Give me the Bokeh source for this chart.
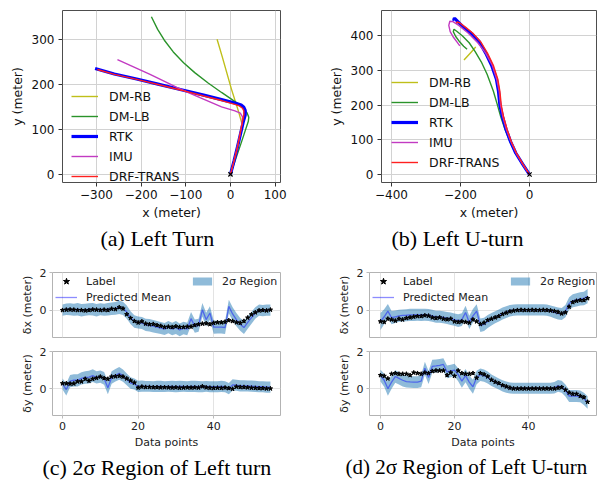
from bokeh.plotting import figure
from bokeh.models import Range1d, FixedTicker, Legend, LegendItem, Title
from bokeh.layouts import row, column
from bokeh.embed import file_html
from bokeh.resources import INLINE

FONT = "DejaVu Sans"
SERIF = "Liberation Serif"

# ---------------- (a) Left turn trajectories (meters) ----------------
a_dmrb_x = [25, 18, 10, 2, -8, -18, -30]
a_dmrb_y = [115, 140, 165, 190, 225, 260, 300]
a_dmlb_x = [0, 12, 24, 34, 40, 41, 37, 25, 11, -20, -50, -80, -105, -128, -148, -163, -177]
a_dmlb_y = [0, 35, 70, 100, 118, 127, 137, 150, 161, 182, 203, 226, 248, 272, 298, 322, 350]
a_rtk_x = [0, 8, 16, 23, 29, 33, 33, 30, 24, 12, -20, -60, -110, -160, -210, -260, -303]
a_rtk_y = [0, 30, 62, 92, 118, 132, 142, 149, 154, 158, 166, 176, 188, 200, 212, 223, 235]
a_imu_x = [0, 8, 16, 22, 26, 27, 22, 10, -20, -67, -120, -180, -253]
a_imu_y = [0, 30, 62, 92, 115, 128, 136, 141, 150, 170, 193, 222, 255]
a_drf_x = [0, 8, 16, 22, 27, 30, 30, 27, 20, 8, -20, -60, -110, -160, -210, -260, -298]
a_drf_y = [0, 30, 62, 92, 118, 132, 141, 147, 152, 156, 164, 174, 187, 199, 211, 222, 233]

# ---------------- (b) Left U-turn trajectories (meters) ----------------
b_dmrb_x = [-190, -180, -170, -161, -156]
b_dmrb_y = [330, 341, 352, 362, 368]
b_dmlb_x = [0, -21, -41, -57, -71, -83, -93, -105, -123, -140, -158, -175, -195, -211, -219, -221, -214, -202, -191, -181]
b_dmlb_y = [0, 30, 62, 95, 130, 165, 200, 241, 289, 325, 355, 380, 400, 413, 419, 412, 398, 382, 370, 361]
b_rtk_x = [0, -20, -40, -55, -68, -78, -86, -90, -96, -110, -127, -147, -170, -190, -207, -217, -220, -218]
b_rtk_y = [0, 30, 62, 95, 130, 165, 200, 240, 275, 315, 350, 385, 408, 423, 440, 450, 448, 444]
b_imu_x = [0, -20, -39, -54, -67, -77, -84, -88, -95, -108, -127, -150, -178, -205, -222, -231, -234, -230, -220, -210, -202]
b_imu_y = [0, 30, 62, 95, 130, 165, 200, 240, 275, 315, 350, 380, 408, 430, 441, 442, 430, 412, 395, 382, 371]
b_drf_x = [0, -19, -38, -53, -65, -75, -82, -86, -92, -105, -122, -142, -165, -186, -202, -210, -212]
b_drf_y = [0, 30, 62, 95, 130, 165, 200, 240, 275, 315, 350, 383, 408, 425, 437, 440, 436]

origin_x = [0]
origin_y = [0]

series_names = ["DM-RB", "DM-LB", "RTK", "IMU", "DRF-TRANS"]

# ---------------- (c) Left turn: GP errors ----------------
c_idx = list(range(56))
c_label_dx = [0.0, 0.02, 0.03, 0.02, 0.0, 0.0, -0.02, 0.0, 0.03, 0.02, 0.0, 0.02, 0.0,
              0.07, 0.05, 0.15, 0.08,
              -0.22, -0.42, -0.58, -0.66, -0.6, -0.72, -0.75, -0.74, -0.8, -0.84, -0.9,
              -0.88, -0.9, -0.86, -0.9, -0.9, -0.88, -0.88, -0.8, -0.75, -0.72, -0.7, -0.75,
              -0.68, -0.65, -0.65, -0.62, -0.54, -0.58, -0.65, -0.68, -0.58, -0.4,
              -0.23, -0.12, -0.02, 0.0, -0.02, 0.02]
c_mean_dx = [0.0, 0.05, 0.05, 0.02, 0.05, 0.0, 0.02, 0.05, 0.05, 0.0, 0.05, 0.02, 0.05, 0.08, 0.1, 0.15, 0.1,
             -0.1, -0.4, -0.6, -0.65, -0.68, -0.78, -0.8, -0.85, -0.9, -0.95, -1.0,
             -0.9, -1.0, -0.92, -1.05, -0.95, -1.0,
             -0.45, -0.85, -0.8, 0.02, -0.5, -0.15,
             -0.9, -0.9, -0.9, -0.92,
             0.2, -0.2, -0.5, -0.75, -0.92, -0.65,
             -0.4, -0.15, 0.0, -0.02, 0.0, 0.0]
c_sig_dx = [0.3, 0.3, 0.32, 0.32, 0.33, 0.33, 0.32, 0.32, 0.33, 0.33,
            0.32, 0.32, 0.33, 0.33, 0.34, 0.35, 0.35, 0.35, 0.34, 0.33,
            0.32, 0.32, 0.32, 0.33, 0.33, 0.33, 0.32, 0.32, 0.33, 0.33,
            0.34, 0.34, 0.33, 0.33, 0.35, 0.35, 0.35, 0.36, 0.36, 0.36,
            0.35, 0.34, 0.34, 0.35, 0.36, 0.36, 0.35, 0.34, 0.34, 0.33,
            0.32, 0.31, 0.3, 0.3, 0.3, 0.3]
c_label_dy = [0.28, 0.28, 0.26, 0.27, 0.38, 0.38, 0.52, 0.42, 0.52, 0.57,
              0.64, 0.56, 0.52, 0.64, 0.66, 0.68, 0.64, 0.54, 0.43, 0.32,
              0.05, 0.1, 0.08, 0.08, 0.07, 0.07, 0.06, 0.07, 0.06, 0.05,
              0.06, 0.04, 0.05, 0.06, 0.05, 0.06, 0.05, 0.12, 0.06, 0.04,
              0.03, 0.04, 0.03, 0.05, 0.02, -0.02, 0.1, 0.08, 0.08, 0.06,
              0.04, 0.03, 0.02, 0.02, 0.0, 0.0]
c_mean_dy = [0.25, -0.05, 0.4, 0.45, 0.45, 0.55, 0.6, 0.62, 0.7, 0.6,
             0.65, 0.55, 0.05, 0.6, 0.72, 0.82, 0.7, 0.5, 0.3, 0.25,
             0.12, 0.13, 0.12, 0.12, 0.11, 0.12, 0.12, 0.11, 0.12, 0.12,
             0.11, 0.12, 0.12, 0.11, 0.12, 0.12, 0.11, 0.1, 0.12, 0.1,
             0.1, 0.1, 0.12, 0.1, 0.0, 0.2, 0.18, 0.15, 0.15, 0.14,
             0.13, 0.12, 0.1, 0.1, 0.08, 0.08]
c_sig_dy = [0.3, 0.32, 0.33, 0.33, 0.33, 0.33, 0.34, 0.34, 0.34, 0.33,
            0.33, 0.34, 0.35, 0.34, 0.34, 0.34, 0.33, 0.32, 0.31, 0.3,
            0.3, 0.3, 0.29, 0.29, 0.29, 0.3, 0.3, 0.29, 0.29, 0.3,
            0.3, 0.3, 0.29, 0.29, 0.3, 0.3, 0.3, 0.3, 0.29, 0.29,
            0.3, 0.3, 0.3, 0.3, 0.3, 0.3, 0.3, 0.3, 0.3, 0.3,
            0.3, 0.3, 0.3, 0.3, 0.3, 0.3]

# ---------------- (d) Left U-turn: GP errors ----------------
d_idx = list(range(57))
d_label_dx = [-0.6, -0.63, -0.46, -0.5, -0.56, -0.46, -0.5, -0.42, -0.39, -0.35,
              -0.32, -0.32, -0.28, -0.3, -0.39, -0.42, -0.39, -0.46, -0.49, -0.46,
              -0.6, -0.63, -0.6, -0.63, -0.67, -0.5, -0.6, -0.74, -0.67, -0.53,
              -0.46, -0.39, -0.32, -0.21, -0.14, -0.07, -0.03, 0.0, 0.01, 0.0,
              0.0, 0.01, 0.0, 0.0, 0.01, 0.0, -0.02, -0.05, -0.1, -0.18,
              -0.12, 0.18, 0.42, 0.49, 0.53, 0.53, 0.63]
d_mean_dx = [-0.6, -0.35, -0.05, -0.4, -0.35, -0.3, -0.28, -0.27, -0.25, -0.25,
             -0.24, -0.25, -0.24, -0.26, -0.3, -0.35, -0.35, -0.38, -0.42, -0.45,
             -0.5, -0.55, -0.5, -0.12, -0.65, -0.3, -0.05, -0.8, -0.75, -0.6,
             -0.48, -0.38, -0.28, -0.18, -0.1, -0.03, 0.0, 0.02, 0.02, 0.02,
             0.02, 0.02, 0.02, 0.02, 0.02, 0.0, -0.05, -0.12, -0.18, -0.2,
             -0.05, 0.35, 0.5, 0.55, 0.6, 0.62, 0.75]
d_sig_dx = [0.45, 0.4, 0.38, 0.35, 0.33, 0.32, 0.32, 0.32, 0.32, 0.32,
            0.32, 0.32, 0.32, 0.32, 0.32, 0.32, 0.32, 0.32, 0.32, 0.33,
            0.33, 0.34, 0.34, 0.35, 0.35, 0.36, 0.36, 0.36, 0.35, 0.34,
            0.33, 0.32, 0.32, 0.32, 0.31, 0.31, 0.3, 0.3, 0.3, 0.3,
            0.3, 0.3, 0.3, 0.3, 0.3, 0.3, 0.3, 0.31, 0.32, 0.32,
            0.33, 0.34, 0.35, 0.35, 0.35, 0.36, 0.38]
d_label_dy = [0.72, 0.68, 0.54, 0.79, 0.83, 0.79, 0.79, 0.79, 0.72, 0.86,
              0.83, 0.79, 0.86, 0.83, 0.94, 0.97, 0.97, 0.97, 0.72, 0.86,
              0.68, 0.97, 0.83, 0.79, 0.79, 0.83, 0.58, 0.83, 0.76, 0.65,
              0.47, 0.36, 0.29, 0.18, 0.11, 0.04, 0.0, 0.0, 0.0, 0.0,
              0.0, 0.0, 0.0, 0.0, 0.0, 0.0, 0.0, 0.0, 0.04, 0.07,
              -0.07, -0.22, -0.29, -0.29, -0.4, -0.47, -0.72]
d_mean_dy = [0.7, 0.45, 0.0, 0.35, 0.65, 0.55, 0.45, 0.38, 0.36, 0.35,
             0.35, 0.4, 1.1, 0.6, 1.2, 1.22, 1.25, 1.3, 0.9, 0.95,
             1.0, 0.75, 0.4, 0.7, 0.35, 0.1, 0.6, 0.75, 0.7, 0.6,
             0.45, 0.35, 0.25, 0.15, 0.08, 0.03, 0.02, 0.02, 0.02, 0.02,
             0.02, 0.02, 0.02, 0.02, 0.02, 0.02, 0.02, 0.05, 0.15, 0.1,
             -0.1, -0.4, -0.4, -0.4, -0.42, -0.55, -0.75]
d_sig_dy = [0.32, 0.35, 0.38, 0.36, 0.34, 0.33, 0.33, 0.32, 0.32, 0.32,
            0.32, 0.33, 0.35, 0.35, 0.35, 0.35, 0.34, 0.34, 0.34, 0.34,
            0.34, 0.35, 0.36, 0.36, 0.36, 0.38, 0.36, 0.34, 0.33, 0.32,
            0.31, 0.3, 0.3, 0.3, 0.3, 0.3, 0.3, 0.3, 0.3, 0.3,
            0.3, 0.3, 0.3, 0.3, 0.3, 0.3, 0.3, 0.31, 0.32, 0.32,
            0.32, 0.32, 0.32, 0.32, 0.32, 0.33, 0.34]

gp_xticks = [0, 20, 40]
gp_yticks = [-2, 0, 2]

COLORS = ["#bfbf1a", "#2a932a", "#0000ff", "#c23ac2", "#ff2020"]
WIDTHS = [1.4, 1.4, 3.2, 1.4, 1.4]


def minus_fmt(ticks):
    return {t: ("\u2212%d" % (-t) if t < 0 else "%d" % t) for t in ticks}


def traj_fig(series, xr, yr, xticks, yticks, frame_w, mb_l, mb_r, leg_loc, caption, cap_off):
    p = figure(frame_width=frame_w, frame_height=172,
               x_range=Range1d(*xr), y_range=Range1d(*yr),
               output_backend="svg", toolbar_location=None,
               min_border_left=mb_l, min_border_right=mb_r,
               min_border_top=10, min_border_bottom=76)
    p.outline_line_color = "#4d4d4d"
    p.outline_line_width = 1
    p.xaxis.ticker = FixedTicker(ticks=xticks)
    p.yaxis.ticker = FixedTicker(ticks=yticks)
    p.xgrid.ticker = FixedTicker(ticks=xticks)
    p.ygrid.ticker = FixedTicker(ticks=yticks)
    p.grid.grid_line_color = "#d2d2d2"
    p.grid.grid_line_width = 1
    for ax in (p.xaxis[0], p.yaxis[0]):
        ax.axis_line_color = None
        ax.major_tick_line_color = "#333333"
        ax.major_tick_out = 4
        ax.major_tick_in = 0
        ax.minor_tick_line_color = None
        ax.major_label_text_font = FONT
        ax.major_label_text_font_size = "12px"
        ax.major_label_text_color = "#111111"
        ax.axis_label_text_font = FONT
        ax.axis_label_text_font_size = "12.5px"
        ax.axis_label_text_font_style = "normal"
        ax.axis_label_text_color = "#111111"
    p.xaxis.major_label_standoff = 3
    p.yaxis.major_label_standoff = 4
    p.xaxis.axis_label_standoff = 3
    p.yaxis.axis_label_standoff = 4
    p.xaxis.axis_label = "x (meter)"
    p.yaxis.axis_label = "y (meter)"
    p.xaxis.major_label_overrides = minus_fmt(xticks)
    items = []
    for (xs, ys), name, col, w in zip(series, series_names, COLORS, WIDTHS):
        r = p.line(xs, ys, line_color=col, line_width=w)
        items.append(LegendItem(label=name, renderers=[r]))
    p.scatter(origin_x, origin_y, marker="x", size=6, line_color="black", line_width=1.2)
    leg = Legend(items=items, location=leg_loc, padding=0, margin=0, spacing=0,
                 glyph_width=27, glyph_height=20, label_height=20, label_standoff=11,
                 label_text_font=FONT, label_text_font_size="12.5px", label_text_color="#111111",
                 background_fill_alpha=0, border_line_alpha=0)
    p.add_layout(leg)
    t = Title(text=caption, align="left", offset=cap_off, text_font=SERIF,
              text_font_size="22px", text_font_style="normal", text_color="black", standoff=3)
    p.add_layout(t, "below")
    return p


def gp_fig(idx, lab, mean, sig, ylabel, xr, frame_w, frame_h, mb_l, mb_r, mb_t, mb_b,
           top, leg2_x=0, caption=None, cap_off=0, cap_size="22px"):
    p = figure(frame_width=frame_w, frame_height=frame_h,
               x_range=Range1d(*xr), y_range=Range1d(-1.45, 2.0),
               output_backend="svg", toolbar_location=None,
               min_border_left=mb_l, min_border_right=mb_r,
               min_border_top=mb_t, min_border_bottom=mb_b)
    p.outline_line_color = "#b3b3b3"
    p.outline_line_width = 1
    p.xaxis.ticker = FixedTicker(ticks=gp_xticks)
    p.yaxis.ticker = FixedTicker(ticks=gp_yticks)
    p.xgrid.ticker = FixedTicker(ticks=gp_xticks)
    p.ygrid.ticker = FixedTicker(ticks=gp_yticks)
    p.grid.grid_line_color = "#e3e3e3"
    for ax in (p.xaxis[0], p.yaxis[0]):
        ax.axis_line_color = None
        ax.major_tick_line_color = "#bbbbbb"
        ax.major_tick_out = 3
        ax.major_tick_in = 0
        ax.minor_tick_line_color = None
        ax.major_label_text_font = FONT
        ax.major_label_text_font_size = "11px"
        ax.major_label_text_color = "#222222"
        ax.axis_label_text_font = FONT
        ax.axis_label_text_font_size = "11px"
        ax.axis_label_text_font_style = "normal"
        ax.axis_label_text_color = "#222222"
        ax.major_label_standoff = 3
        ax.axis_label_standoff = 3
    p.yaxis.axis_label = ylabel
    p.xaxis.axis_label = "Data points"
    lower = [m - s for m, s in zip(mean, sig)]
    upper = [m + s for m, s in zip(mean, sig)]
    band = p.varea(x=idx, y1=lower, y2=upper, fill_color="#1f77b4", fill_alpha=0.5)
    mline = p.line(idx, mean, line_color="#0000ff", line_alpha=0.45, line_width=1.3)
    stars = p.scatter(idx, lab, marker="star", size=4.5, color="black")
    if top:
        p.xaxis.visible = False
        leg1 = Legend(items=[LegendItem(label="Label", renderers=[stars]),
                             LegendItem(label="Predicted Mean", renderers=[mline])],
                      location=(3, frame_h - 33), padding=0, margin=0, spacing=0,
                      glyph_width=22, glyph_height=16, label_height=16, label_standoff=9,
                      label_text_font=FONT, label_text_font_size="11px", label_text_color="#222222",
                      background_fill_alpha=0, border_line_alpha=0)
        leg2 = Legend(items=[LegendItem(label="2\u03c3 Region", renderers=[band])],
                      location=(leg2_x, frame_h - 17), padding=0, margin=0, spacing=0,
                      glyph_width=24, glyph_height=10, label_height=16, label_standoff=8,
                      label_text_font=FONT, label_text_font_size="11px", label_text_color="#222222",
                      background_fill_alpha=0, border_line_alpha=0)
        p.add_layout(leg1)
        p.add_layout(leg2)
    if caption:
        t = Title(text=caption, align="left", offset=cap_off, text_font=SERIF,
                  text_font_size=cap_size, text_font_style="normal", text_color="black", standoff=3)
        p.add_layout(t, "below")
    return p


pa = traj_fig([(a_dmrb_x, a_dmrb_y), (a_dmlb_x, a_dmlb_y), (a_rtk_x, a_rtk_y),
               (a_imu_x, a_imu_y), (a_drf_x, a_drf_y)],
              (-376, 112), (-18, 364), [-300, -200, -100, 0, 100], [0, 100, 200, 300],
              218, 62, 20, (9, -4), "(a) Left Turn", 38)
pb = traj_fig([(b_dmrb_x, b_dmrb_y), (b_dmlb_x, b_dmlb_y), (b_rtk_x, b_rtk_y),
               (b_imu_x, b_imu_y), (b_drf_x, b_drf_y)],
              (-429, 194), (-23, 473), [-400, -200, 0], [0, 100, 200, 300, 400],
              215, 81, 1, (10, 10), "(b) Left U-turn", 10)

pc1 = gp_fig(c_idx, c_label_dx, c_mean_dx, c_sig_dx, "\u03b4x (meter)", (-2.65, 57.67),
             228, 65, 52, 20, 14, 7, True, leg2_x=138)
pc2 = gp_fig(c_idx, c_label_dy, c_mean_dy, c_sig_dy, "\u03b4y (meter)", (-2.65, 57.67),
             228, 64, 52, 20, 7, 52, False, caption="(c) 2\u03c3 Region of Left turn", cap_off=-10)
pd1 = gp_fig(d_idx, d_label_dx, d_mean_dx, d_sig_dx, "\u03b4x (meter)", (-2.97, 58.4),
             227, 65, 69, 1, 14, 7, True, leg2_x=139)
pd2 = gp_fig(d_idx, d_label_dy, d_mean_dy, d_sig_dy, "\u03b4y (meter)", (-2.97, 58.4),
             227, 64, 69, 1, 7, 52, False, caption="(d) 2\u03c3 Region of Left U-turn",
             cap_off=-24, cap_size="21px")

layout = column(row(pa, pb), row(column(pc1, pc2), column(pd1, pd2)))

open("out.html", "w").write(file_html(layout, INLINE))
